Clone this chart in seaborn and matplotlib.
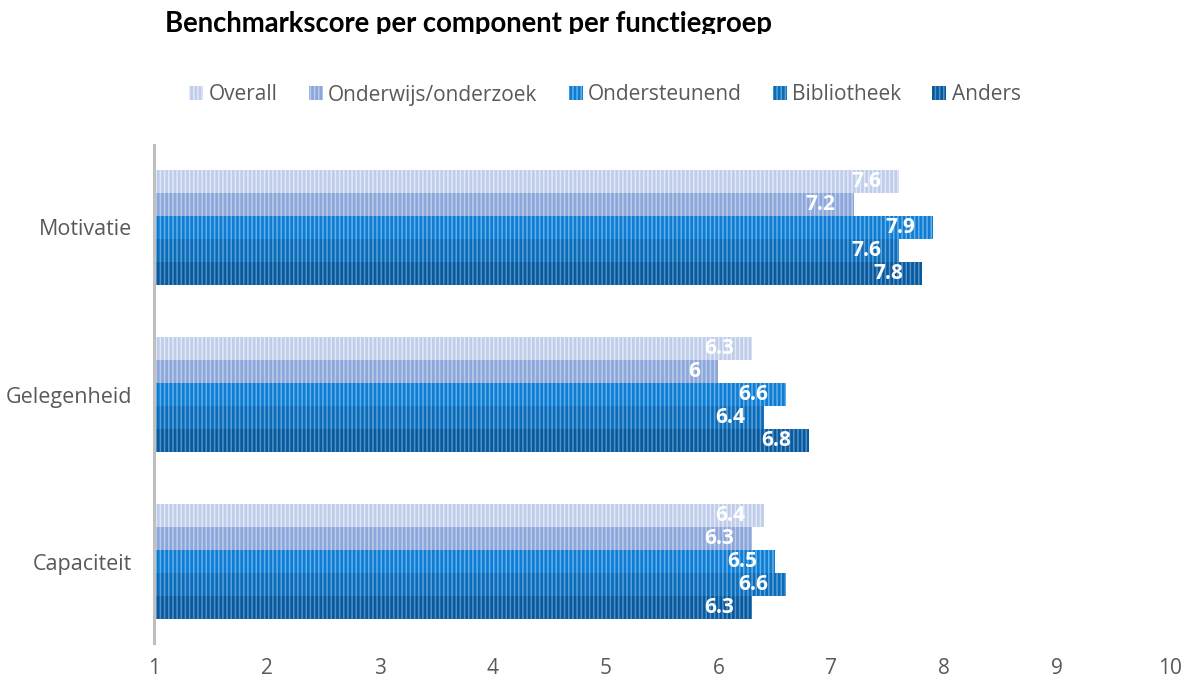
import matplotlib
matplotlib.use("Agg")
import matplotlib.pyplot as plt
import seaborn as sns
import pandas as pd
from matplotlib.patches import Patch
from matplotlib.transforms import Bbox, TransformedBbox

components = ["Motivatie", "Gelegenheid", "Capaciteit"]
groups = ["Overall", "Onderwijs/onderzoek", "Ondersteunend", "Bibliotheek", "Anders"]
overall = [7.6, 6.3, 6.4]
onderwijs = [7.2, 6.0, 6.3]
ondersteunend = [7.9, 6.6, 6.5]
bibliotheek = [7.6, 6.4, 6.6]
anders = [7.8, 6.8, 6.3]
xticks = [1, 2, 3, 4, 5, 6, 7, 8, 9, 10]

series = [overall, onderwijs, ondersteunend, bibliotheek, anders]
base_colors = ["#bfcdea", "#8ba7d9", "#0f7cd2", "#0c6cb8", "#08599b"]
stripe_colors = ["#e2e9f6", "#bccbeb", "#62b1ec", "#5aa2dc", "#4f90c8"]

rows = []
for g, vals in zip(groups, series):
    for c, v in zip(components, vals):
        rows.append({"component": c, "groep": g, "score": v})
df = pd.DataFrame(rows)

sns.set_theme(style="white")
plt.rcParams["font.family"] = ["Open Sans", "DejaVu Sans"]
plt.rcParams["hatch.linewidth"] = 1.1

fig = plt.figure(figsize=(11.91, 6.84), dpi=100)
ax = fig.add_axes([154 / 1191, 41 / 684, (1170 - 154) / 1191, (643 - 145) / 684])

sns.barplot(data=df, x="score", y="component", hue="groep", orient="h",
            order=components, hue_order=groups, palette=base_colors,
            saturation=1, width=0.69, legend=False, ax=ax, errorbar=None)

for cont, sc in zip(ax.containers, stripe_colors):
    for p in cont.patches:
        p.set_hatch("||||")
        p.set_edgecolor(sc)
        p.set_linewidth(0)

for cont, vals in zip(ax.containers, series):
    for p, v in zip(cont.patches, vals):
        lbl = f"{v:g}"
        ax.annotate(lbl, xy=(p.get_x() + p.get_width(), p.get_y() + p.get_height() / 2),
                    xytext=(-13, 0), textcoords="offset points", ha="right", va="center",
                    color="white", fontsize=15, fontweight="bold")

ax.set_xlim(1, 10)
ax.set_ylim(2.488, -0.494)
ax.set_xticks(xticks)
ax.set_xticklabels([str(t) for t in xticks])
ax.set_xlabel("")
ax.set_ylabel("")
ax.tick_params(axis="x", length=0, pad=11, labelsize=15, labelcolor="#595959")
ax.tick_params(axis="y", length=0, pad=16, labelsize=15.5, labelcolor="#595959")
for s in ["top", "right", "bottom"]:
    ax.spines[s].set_visible(False)
ax.spines["left"].set_color("#bfbfbf")
ax.spines["left"].set_linewidth(2.2)
ax.grid(False)

handles = [Patch(facecolor=b, edgecolor=s, linewidth=0, hatch="||||", label=g)
           for b, s, g in zip(base_colors, stripe_colors, groups)]
leg = fig.legend(handles=handles, loc="center", bbox_to_anchor=(0.508, 1 - 95 / 684),
                 ncol=5, frameon=False, fontsize=15, handlelength=0.67, handleheight=0.67,
                 handletextpad=0.25, columnspacing=1.5)
for t in leg.get_texts():
    t.set_color("#595959")

title = fig.text(165 / 1191, 1 - 32 / 684, "Benchmarkscore per component per functiegroep",
                 fontsize=19.8, fontweight="bold", family=["Lato", "DejaVu Sans"],
                 color="black", ha="left", va="baseline")
title.set_clip_on(True)
title.set_clip_box(TransformedBbox(Bbox([[0, 1 - 34 / 684], [1, 1]]), fig.transFigure))

fig.savefig("out.png", dpi=100)
